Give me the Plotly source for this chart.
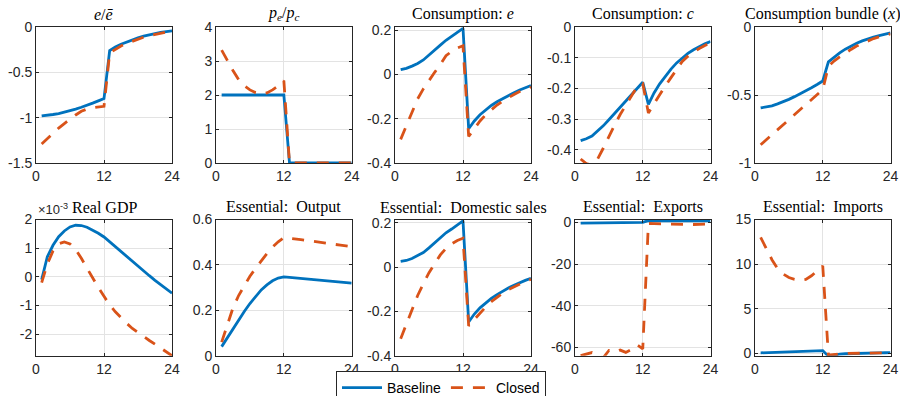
import plotly.graph_objects as go

# ---------------- data ----------------
t = list(range(1, 25))

e_ratio_base = [-0.98, -0.975, -0.965, -0.955, -0.94, -0.925, -0.905, -0.885, -0.865, -0.84, -0.815, -0.79,
                -0.26, -0.22, -0.19, -0.165, -0.14, -0.12, -0.10, -0.085, -0.072, -0.06, -0.05, -0.043]
e_ratio_closed = [-1.29, -1.23, -1.17, -1.115, -1.065, -1.015, -0.97, -0.93, -0.905, -0.89, -0.88, -0.875,
                  -0.285, -0.245, -0.21, -0.18, -0.155, -0.132, -0.112, -0.095, -0.08, -0.068, -0.057, -0.048]

pepc_base = [2, 2, 2, 2, 2, 2, 2, 2, 2, 2, 2, 2, 0, 0, 0, 0, 0, 0, 0, 0, 0, 0, 0, 0]
pepc_closed = [3.32, 3.0, 2.72, 2.45, 2.27, 2.15, 2.07, 2.03, 2.06, 2.15, 2.27, 2.42,
               0, 0, 0, 0, 0, 0, 0, 0, 0, 0, 0, 0]

cons_e_base = [0.022, 0.028, 0.038, 0.05, 0.066, 0.087, 0.11, 0.133, 0.155, 0.172, 0.19, 0.209,
               -0.245, -0.21, -0.182, -0.16, -0.14, -0.123, -0.108, -0.094, -0.082, -0.07, -0.06, -0.05]
cons_e_closed = [-0.293, -0.23, -0.17, -0.11, -0.065, -0.025, 0.01, 0.045, 0.085, 0.105, 0.12, 0.13,
                 -0.28, -0.245, -0.21, -0.182, -0.158, -0.138, -0.12, -0.104, -0.09, -0.077, -0.066, -0.056]

cons_c_base = [-0.37, -0.364, -0.355, -0.34, -0.322, -0.302, -0.282, -0.26, -0.24, -0.22, -0.2, -0.18,
               -0.252, -0.215, -0.185, -0.16, -0.137, -0.117, -0.1, -0.086, -0.074, -0.064, -0.055, -0.047]
cons_c_closed = [-0.43, -0.445, -0.45, -0.43, -0.395, -0.355, -0.32, -0.285, -0.255, -0.225, -0.195, -0.185,
                 -0.28, -0.25, -0.22, -0.192, -0.165, -0.137, -0.112, -0.095, -0.082, -0.07, -0.06, -0.052]

bundle_base = [-0.595, -0.59, -0.58, -0.565, -0.55, -0.532, -0.512, -0.492, -0.47, -0.447, -0.423, -0.397,
               -0.256, -0.22, -0.19, -0.163, -0.14, -0.12, -0.102, -0.087, -0.074, -0.063, -0.053, -0.044]
bundle_closed = [-0.866, -0.829, -0.792, -0.755, -0.718, -0.681, -0.644, -0.607, -0.57, -0.533, -0.496, -0.46,
                 -0.29, -0.25, -0.22, -0.19, -0.165, -0.14, -0.12, -0.1, -0.085, -0.072, -0.06, -0.05]

gdp_base = [-0.1, 0.7, 1.1, 1.4, 1.6, 1.74, 1.8, 1.79, 1.73, 1.63, 1.52, 1.39,
            1.22, 1.04, 0.86, 0.69, 0.52, 0.36, 0.2, 0.04, -0.12, -0.28, -0.43, -0.57]
gdp_closed = [-0.2, 0.45, 0.9, 1.15, 1.22, 1.15, 0.95, 0.65, 0.3, -0.05, -0.37, -0.68,
              -0.98, -1.22, -1.43, -1.62, -1.8, -1.95, -2.09, -2.22, -2.35, -2.48, -2.61, -2.75]

out_base = [0.04, 0.08, 0.12, 0.16, 0.195, 0.23, 0.262, 0.29, 0.312, 0.33, 0.342, 0.347,
            0.345, 0.343, 0.341, 0.338, 0.336, 0.334, 0.332, 0.33, 0.328, 0.325, 0.323, 0.32]
out_closed = [0.06, 0.14, 0.21, 0.265, 0.31, 0.35, 0.385, 0.42, 0.45, 0.478, 0.502, 0.52,
              0.518, 0.515, 0.511, 0.508, 0.504, 0.5, 0.497, 0.494, 0.49, 0.487, 0.484, 0.48]

dom_base = [0.026, 0.03, 0.039, 0.051, 0.066, 0.087, 0.11, 0.133, 0.155, 0.172, 0.19, 0.209,
            -0.248, -0.212, -0.184, -0.161, -0.141, -0.124, -0.108, -0.094, -0.082, -0.07, -0.06, -0.05]
dom_closed = [-0.323, -0.26, -0.19, -0.128, -0.075, -0.025, 0.015, 0.055, 0.085, 0.105, 0.12, 0.13,
              -0.265, -0.235, -0.205, -0.18, -0.156, -0.136, -0.118, -0.102, -0.089, -0.076, -0.065, -0.055]

exp_base = [-0.3, -0.28, -0.26, -0.24, -0.22, -0.2, -0.17, -0.14, -0.11, -0.08, -0.05, -0.02,
            0.8, 0.8, 0.8, 0.8, 0.8, 0.8, 0.8, 0.8, 0.8, 0.8, 0.8, 0.8]
exp_closed = [-64.0, -63.2, -62.5, -63.8, -65.0, -61.5, -62.3, -61.3, -62.4, -61.0, -58.8, -60.7,
              -0.5, -0.6, -0.7, -0.8, -0.9, -1.0, -1.0, -1.0, -1.0, -0.9, -0.8, -0.7]

imp_base = [0.07, 0.09, 0.11, 0.13, 0.15, 0.17, 0.19, 0.21, 0.23, 0.26, 0.29, 0.32,
            -0.3, -0.15, -0.08, -0.03, 0.0, 0.02, 0.04, 0.05, 0.06, 0.07, 0.08, 0.09]
imp_closed = [13.0, 11.7, 10.5, 9.5, 8.9, 8.5, 8.3, 8.2, 8.3, 8.7, 9.3, 9.8,
              -0.2, -0.1, -0.05, 0.0, 0.02, 0.03, 0.04, 0.05, 0.05, 0.06, 0.06, 0.06]

titles = ["<i>e</i>/<i>ē</i>",
          "<i>p<sub>e</sub></i>/<i>p<sub>c</sub></i>",
          "Consumption: <i>e</i>",
          "Consumption: <i>c</i>",
          "Consumption bundle (<i>x</i>)",
          "Real GDP",
          "Essential:  Output",
          "Essential:  Domestic sales",
          "Essential:  Exports",
          "Essential:  Imports"]

series = [(e_ratio_base, e_ratio_closed), (pepc_base, pepc_closed), (cons_e_base, cons_e_closed),
          (cons_c_base, cons_c_closed), (bundle_base, bundle_closed), (gdp_base, gdp_closed),
          (out_base, out_closed), (dom_base, dom_closed), (exp_base, exp_closed), (imp_base, imp_closed)]

y_ranges = [[-1.5, 0], [0, 4], [-0.4, 0.215], [-0.443, 0], [-1, 0],
            [-2.75, 2], [0, 0.6], [-0.4, 0.215], [-64, 1.4], [-0.25, 15]]
y_tickvals = [[-1.5, -1, -0.5, 0], [0, 1, 2, 3, 4], [-0.4, -0.2, 0, 0.2], [-0.4, -0.3, -0.2, -0.1, 0],
              [-1, -0.5, 0], [-2, -1, 0, 1, 2], [0, 0.2, 0.4, 0.6], [-0.4, -0.2, 0, 0.2],
              [-60, -40, -20, 0], [0, 5, 10, 15]]
y_ticktext = [["-1.5", "-1", "-0.5", "0"], ["0", "1", "2", "3", "4"], ["-0.4", "-0.2", "0", "0.2"],
              ["-0.4", "-0.3", "-0.2", "-0.1", "0"], ["-1", "-0.5", "0"], ["-2", "-1", "0", "1", "2"],
              ["0", "0.2", "0.4", "0.6"], ["-0.4", "-0.2", "0", "0.2"], ["-60", "-40", "-20", "0"],
              ["0", "5", "10", "15"]]
x_tickvals = [0, 12, 24]
x_ticktext = ["0", "12", "24"]

# ---------------- layout geometry ----------------
W, H = 900, 396
col_px = [(36, 172), (216, 351.7), (395, 531), (575, 710.5), (755, 890.5)]
row_px = [(27, 163), (219.5, 355.7)]

BLUE = "#0072BD"
ORANGE = "#D95319"
AXC = "#262626"
GRID = "#e3e3e3"
SANS = "Liberation Sans, Arial, sans-serif"
SERIF = "Liberation Serif, Times New Roman, serif"

fig = go.Figure()
layout = dict(width=W, height=H, margin=dict(l=0, r=0, t=0, b=0, autoexpand=False),
              paper_bgcolor="white", plot_bgcolor="white", annotations=[])

for i in range(10):
    r, c = divmod(i, 5)
    n = i + 1
    xa = "xaxis" if n == 1 else f"xaxis{n}"
    ya = "yaxis" if n == 1 else f"yaxis{n}"
    xref = "x" if n == 1 else f"x{n}"
    yref = "y" if n == 1 else f"y{n}"
    x0, x1 = col_px[c]
    y0, y1 = row_px[r]
    common = dict(showline=True, linecolor=AXC, linewidth=1, mirror="ticks", ticks="inside",
                  ticklen=3, tickcolor=AXC, showgrid=True, gridcolor=GRID, gridwidth=1,
                  zeroline=False, automargin=False, tickfont=dict(family=SANS, size=14, color=AXC))
    layout[xa] = dict(domain=[x0 / W, x1 / W], range=[0, 24], tickvals=x_tickvals, ticktext=x_ticktext,
                      anchor=yref, **common)
    layout[ya] = dict(domain=[1 - y1 / H, 1 - y0 / H], range=y_ranges[i], tickvals=y_tickvals[i],
                      ticktext=y_ticktext[i], anchor=xref, **common)
    base, closed = series[i]
    fig.add_trace(go.Scatter(x=t, y=base, mode="lines", name="Baseline", xaxis=xref, yaxis=yref,
                             line=dict(color=BLUE, width=2.8), showlegend=(i == 0)))
    fig.add_trace(go.Scatter(x=t, y=closed, mode="lines", name="Closed", xaxis=xref, yaxis=yref,
                             line=dict(color=ORANGE, width=2.8, dash="12px,10px"), showlegend=(i == 0)))
    layout["annotations"].append(dict(text=titles[i], x=(x0 + x1) / 2 / W, y=1 - y0 / H,
                                      xref="paper", yref="paper", xanchor="center", yanchor="bottom",
                                      showarrow=False, yshift=2,
                                      font=dict(family=SERIF, size=16, color="black")))

# exponent label of Real GDP panel
layout["annotations"].append(dict(text="×10<sup>-3</sup>", x=36 / W, y=1 - row_px[1][0] / H,
                                  xref="paper", yref="paper", xanchor="left", yanchor="bottom",
                                  showarrow=False, yshift=1,
                                  font=dict(family=SANS, size=13, color=AXC)))

layout["legend"] = dict(orientation="h", x=441 / W, xanchor="center", y=1 - 371 / H, yanchor="top",
                        bordercolor=AXC, borderwidth=1, bgcolor="white",
                        font=dict(family=SANS, size=14, color="black"), itemwidth=40,
                        tracegroupgap=0)
fig.update_layout(**layout)

fig.write_html("out.html", config={"displayModeBar": False},
               post_script="document.body.style.margin='0';document.body.style.padding='0';"
                           "document.body.style.overflow='hidden';")
